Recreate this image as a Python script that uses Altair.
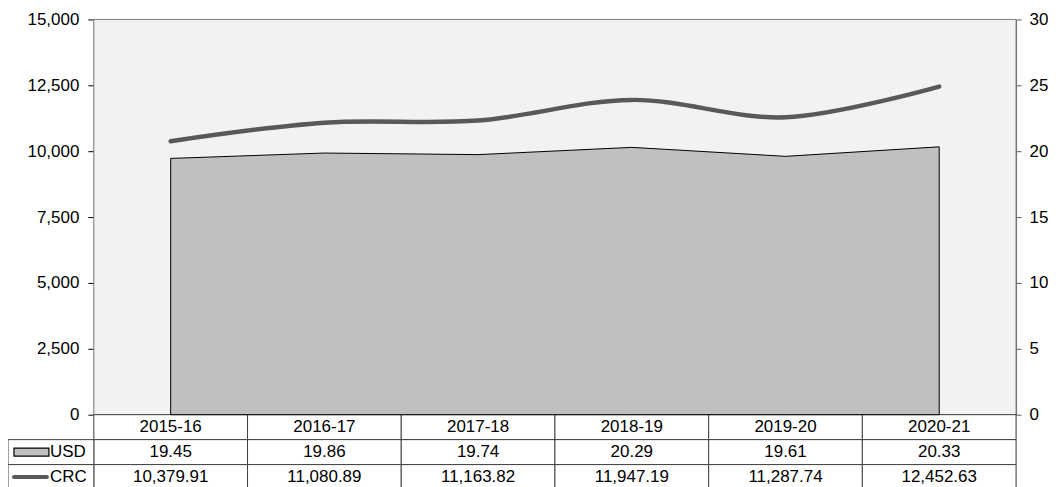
import altair as alt
import pandas as pd

# ---- data ----
categories = ["2015-16", "2016-17", "2017-18", "2018-19", "2019-20", "2020-21"]
usd = [19.45, 19.86, 19.74, 20.29, 19.61, 20.33]
crc = [10379.91, 11080.89, 11163.82, 11947.19, 11287.74, 12452.63]
crc_ticks = [0, 2500, 5000, 7500, 10000, 12500, 15000]
usd_ticks = [0, 5, 10, 15, 20, 25, 30]
row_names = ["Year", "USD", "CRC"]
crc_domain = [0, 15000]
usd_domain = [0, 30]

# ---- layout / style ----
FONT = "Liberation Sans"
FS = 17
PLOT_W = 924
PLOT_H = 396
ROW_H = 25
TABLE_H = ROW_H * 3
HDR_W = 86
LINE_COL = "#595959"
AREA_COL = "#c0c0c0"
GRID_COL = "#404040"
BG_COL = "#f2f2f2"

n = len(categories)
series = pd.DataFrame({
    "pos": [i + 0.5 for i in range(n)],
    "cat": categories,
    "USD": usd,
    "CRC": crc,
})

cells = []
for i, c in enumerate(categories):
    cells.append({"x0": i, "x1": i + 1, "pos": i + 0.5, "row": "Year", "label": c})
    cells.append({"x0": i, "x1": i + 1, "pos": i + 0.5, "row": "USD", "label": f"{usd[i]:.2f}"})
    cells.append({"x0": i, "x1": i + 1, "pos": i + 0.5, "row": "CRC", "label": f"{crc[i]:,.2f}"})
cells = pd.DataFrame(cells)
hdr = pd.DataFrame({"row": ["USD", "CRC"]})
bg = pd.DataFrame({"x0": [0], "x1": [n], "y0": [crc_domain[0]], "y1": [crc_domain[1]]})

xscale = alt.Scale(domain=[0, n], nice=False, zero=False)
row_scale = alt.Scale(type="band", domain=row_names, range=[PLOT_H, PLOT_H + TABLE_H],
                      paddingInner=0, paddingOuter=0)
crc_scale = alt.Scale(domain=crc_domain, range=[PLOT_H, 0], nice=False)
usd_scale = alt.Scale(domain=usd_domain, range=[PLOT_H, 0], nice=False)


def yrow():
    return alt.Y("row:N", scale=row_scale, axis=None)


background = alt.Chart(bg).mark_rect(fill=BG_COL, stroke="#808080", strokeWidth=1).encode(
    x=alt.X("x0:Q", scale=xscale, axis=None),
    x2="x1:Q",
    y=alt.Y("y0:Q", scale=crc_scale, axis=None),
    y2="y1:Q",
)
cell_rect = alt.Chart(cells).mark_rect(fill="white", stroke=GRID_COL, strokeWidth=1).encode(
    x=alt.X("x0:Q", scale=xscale, axis=None),
    x2="x1:Q",
    y=yrow(),
)
cell_text = alt.Chart(cells).mark_text(font=FONT, fontSize=FS, color="black", baseline="middle").encode(
    x=alt.X("pos:Q", scale=xscale, axis=None),
    y=yrow(),
    text="label:N",
)
hdr_rect = alt.Chart(hdr).mark_rect(fill="white", stroke=GRID_COL, strokeWidth=1).encode(
    x=alt.value(-HDR_W), x2=alt.value(0), y=yrow(),
)
hdr_text = alt.Chart(hdr).mark_text(font=FONT, fontSize=FS, color="black", align="left",
                                    baseline="middle").encode(
    x=alt.value(-44), y=yrow(), text="row:N",
)
sw_usd = alt.Chart(pd.DataFrame({"row": ["USD"]})).mark_bar(
    height=8, fill=AREA_COL, stroke="black", strokeWidth=1.2, orient="horizontal").encode(
    x=alt.value(-80), x2=alt.value(-45), y=yrow(),
)
sw_crc = alt.Chart(pd.DataFrame({"row": ["CRC"]})).mark_bar(
    height=4, fill=LINE_COL, cornerRadius=2, orient="horizontal").encode(
    x=alt.value(-82), x2=alt.value(-45), y=yrow(),
)

area = alt.Chart(series).mark_area(fill=AREA_COL, stroke="black", strokeWidth=1, opacity=1).encode(
    x=alt.X("pos:Q", scale=xscale, axis=None),
    y=alt.Y("USD:Q", scale=usd_scale,
            axis=alt.Axis(orient="right", values=usd_ticks, format=".0f", title=None, grid=False,
                          labelFont=FONT, labelFontSize=FS, labelColor="black",
                          domainColor=LINE_COL, tickColor=LINE_COL, tickSize=5,
                          labelPadding=8)),
)
line = alt.Chart(series).mark_line(color=LINE_COL, strokeWidth=4.5, interpolate="cardinal",
                                   strokeCap="round").encode(
    x=alt.X("pos:Q", scale=xscale, axis=None),
    y=alt.Y("CRC:Q", scale=crc_scale,
            axis=alt.Axis(orient="left", values=crc_ticks, format=",.0f", title=None, grid=False,
                          labelFont=FONT, labelFontSize=FS, labelColor="black",
                          domainColor="black", tickColor="black", tickSize=6,
                          labelPadding=9)),
)

chart = alt.layer(
    background, cell_rect, hdr_rect, cell_text, hdr_text, sw_usd, sw_crc, area, line
).resolve_scale(y="independent").properties(
    width=PLOT_W,
    height=PLOT_H + TABLE_H,
    autosize=alt.AutoSizeParams(type="none"),
    padding={"left": 86, "top": 11, "right": 32, "bottom": 2},
).configure_view(
    stroke=None
).configure(font=FONT)

chart.save("out.html", embed_options={"renderer": "svg", "actions": False})
